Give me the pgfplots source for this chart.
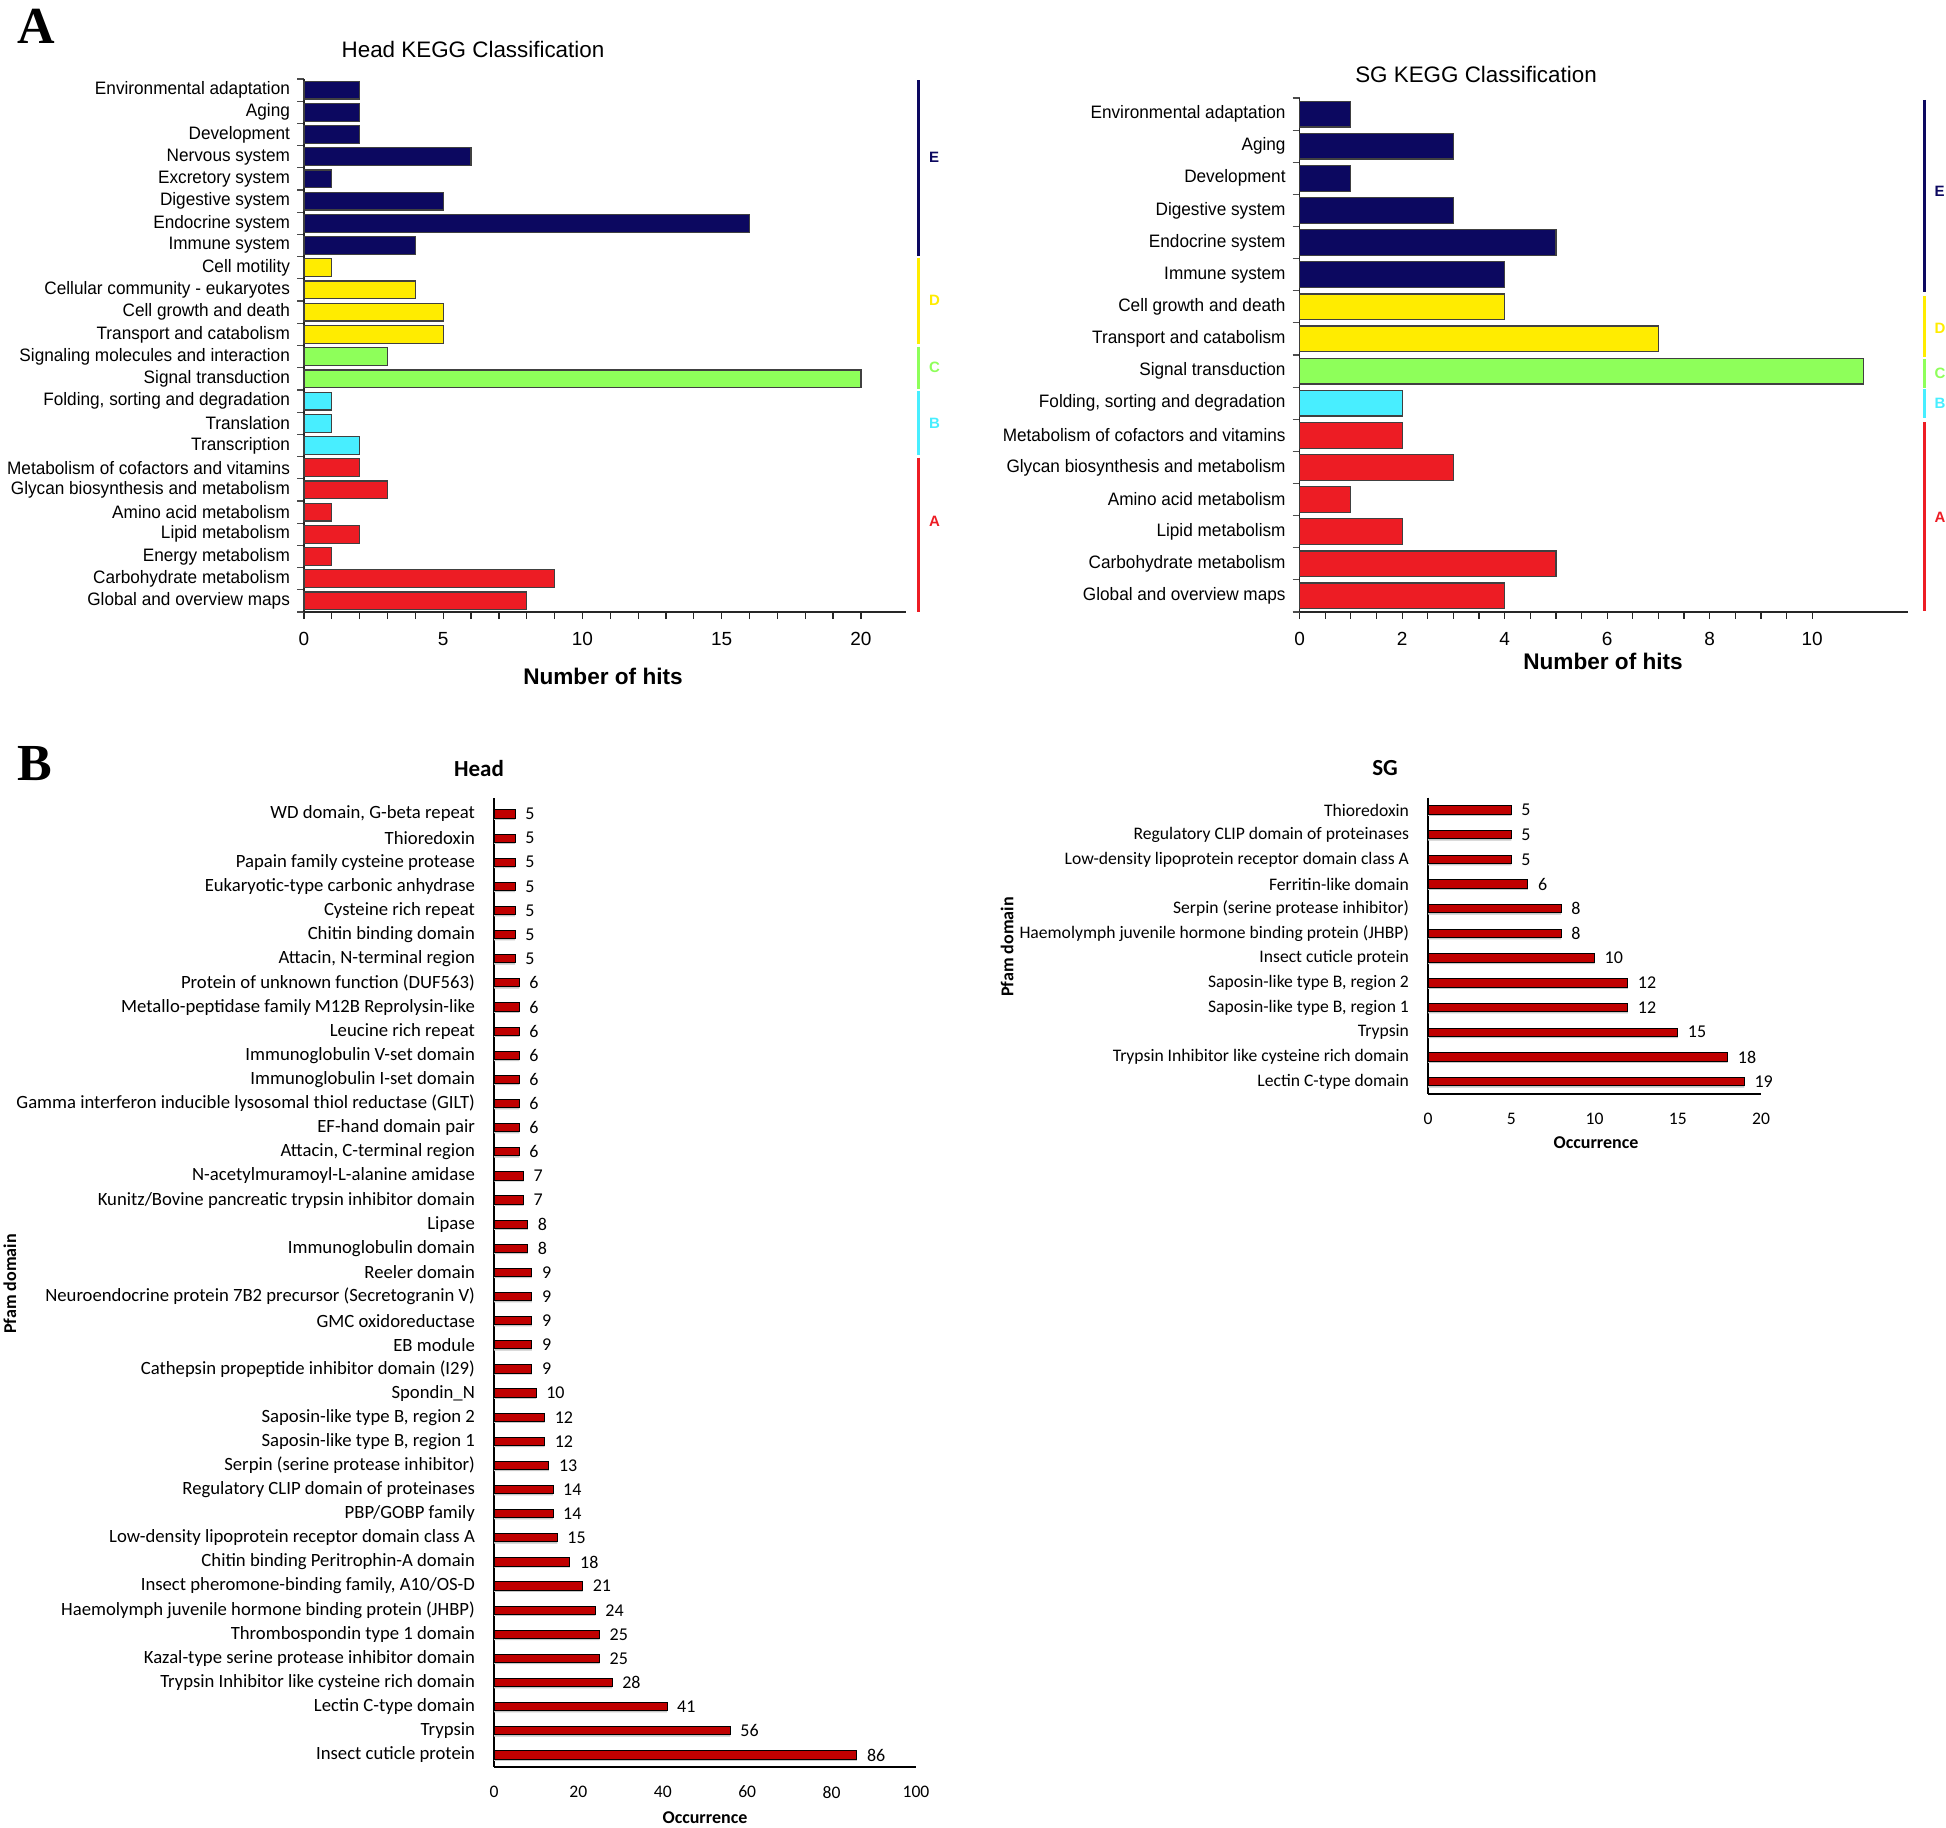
\documentclass[border=0pt]{standalone}
\usepackage{fontspec}
\setmainfont{Liberation Sans}
\newfontfamily\narrowsans[FakeStretch=0.955]{Liberation Sans}
\newfontfamily\carlito{Carlito}
\newfontfamily\tnr{Liberation Serif}
\usepackage{pgfplots}
\pgfplotsset{compat=1.18}

\definecolor{cE}{RGB}{12,8,96}
\definecolor{cD}{RGB}{255,236,0}
\definecolor{cC}{RGB}{142,255,90}
\definecolor{cB}{RGB}{72,238,255}
\definecolor{cA}{RGB}{237,28,36}
\definecolor{bred}{RGB}{192,0,0}

\pgfplotsset{
  /pgf/number format/assume math mode=true,
  kegg/.style={
    scale only axis, enlargelimits=false, clip=false,
    y dir=reverse,
    axis x line*=bottom, axis y line*=left,
    axis line style={black!85, line width=0.8pt},
    tick align=outside,
    major tick length=3.5pt, minor tick length=3.5pt,
    major y tick style={draw=none},
    minor y tick style={black!70, line width=0.6pt},
    major x tick style={black!85, line width=0.6pt},
    minor x tick style={black!85, line width=0.6pt},
    yticklabel style={font=\narrowsans\fontsize{9}{10}\selectfont},
    xticklabel style={font=\fontsize{9.5}{10}\selectfont, yshift=-3pt},
  },
  kbar/.style={xbar, bar shift=0pt, bar width=0.8, draw=black!75, line width=0.6pt, fill=#1},
  pfam/.style={
    scale only axis, enlargelimits=false, clip=false,
    y dir=reverse,
    axis x line*=bottom, axis y line*=left,
    axis line style={black, line width=0.9pt},
    tick style={draw=none}, major tick length=0pt,
    yticklabel style={font=\carlito\fontsize{8.8}{10}\selectfont, xshift=-6pt},
    xticklabel style={font=\carlito\fontsize{8.8}{10}\selectfont, yshift=-6pt},
  },
  pbar/.style={xbar, bar shift=0pt, bar width=0.34, fill=bred, draw=black, line width=0.5pt,
    point meta=x, nodes near coords,
    nodes near coords style={anchor=west, xshift=1.5pt, font=\carlito\fontsize{9}{10}\selectfont, text=black}},
  pshadow/.style={xbar, bar shift=0.07, bar width=0.34, fill=gray!45, draw=none, forget plot},
}

\begin{document}
\begin{tikzpicture}

% ---------------- Head KEGG ----------------
\begin{axis}[kegg, at={(152pt,607.5pt)}, anchor=south west,
  width=301pt, height=266.5pt,
  xmin=0, xmax=21.62, ymin=-0.5, ymax=23.5,
  xtick={0,5,10,15,20}, minor x tick num=4,
  ytick={0,...,23}, minor ytick={-0.5,0.5,...,23.5},
  yticklabels={Environmental adaptation, Aging, Development, Nervous system, Excretory system, Digestive system, Endocrine system, Immune system, Cell motility, Cellular community - eukaryotes, Cell growth and death, Transport and catabolism, Signaling molecules and interaction, Signal transduction, {Folding, sorting and degradation}, Translation, Transcription, Metabolism of cofactors and vitamins, Glycan biosynthesis and metabolism, Amino acid metabolism, Lipid metabolism, Energy metabolism, Carbohydrate metabolism, Global and overview maps},
]
\addplot[kbar=cE] coordinates {(2,0) (2,1) (2,2) (6,3) (1,4) (5,5) (16,6) (4,7)};
\addplot[kbar=cD] coordinates {(1,8) (4,9) (5,10) (5,11)};
\addplot[kbar=cC] coordinates {(3,12) (20,13)};
\addplot[kbar=cB] coordinates {(1,14) (1,15) (2,16)};
\addplot[kbar=cA] coordinates {(2,17) (3,18) (1,19) (2,20) (1,21) (9,22) (8,23)};
\draw[cE, line width=1.5pt] (axis cs:22.06,-0.45) -- (axis cs:22.06,7.45);
\draw[cD, line width=1.5pt] (axis cs:22.06,7.55) -- (axis cs:22.06,11.45);
\draw[cC, line width=1.5pt] (axis cs:22.06,11.55) -- (axis cs:22.06,13.45);
\draw[cB, line width=1.5pt] (axis cs:22.06,13.55) -- (axis cs:22.06,16.45);
\draw[cA, line width=1.5pt] (axis cs:22.06,16.55) -- (axis cs:22.06,23.5);
\node[anchor=west, inner sep=0pt, text=cE, font=\bfseries\fontsize{7.5}{8}\selectfont] at (axis cs:22.44,3.04) {E};
\node[anchor=west, inner sep=0pt, text=cD, font=\bfseries\fontsize{7.5}{8}\selectfont] at (axis cs:22.44,9.45) {D};
\node[anchor=west, inner sep=0pt, text=cC, font=\bfseries\fontsize{7.5}{8}\selectfont] at (axis cs:22.44,12.5) {C};
\node[anchor=west, inner sep=0pt, text=cB, font=\bfseries\fontsize{7.5}{8}\selectfont] at (axis cs:22.44,15.0) {B};
\node[anchor=west, inner sep=0pt, text=cA, font=\bfseries\fontsize{7.5}{8}\selectfont] at (axis cs:22.44,19.43) {A};
\end{axis}

% ---------------- SG KEGG ----------------
\begin{axis}[kegg, at={(649.8pt,607.5pt)}, anchor=south west,
  width=304.2pt, height=257pt,
  xmin=0, xmax=11.87, ymin=-0.5, ymax=15.5,
  xtick={0,2,4,6,8,10}, minor x tick num=3,
  ytick={0,...,15}, minor ytick={-0.5,0.5,...,15.5},
  yticklabels={Environmental adaptation, Aging, Development, Digestive system, Endocrine system, Immune system, Cell growth and death, Transport and catabolism, Signal transduction, {Folding, sorting and degradation}, Metabolism of cofactors and vitamins, Glycan biosynthesis and metabolism, Amino acid metabolism, Lipid metabolism, Carbohydrate metabolism, Global and overview maps},
]
\addplot[kbar=cE] coordinates {(1,0) (3,1) (1,2) (3,3) (5,4) (4,5)};
\addplot[kbar=cD] coordinates {(4,6) (7,7)};
\addplot[kbar=cC] coordinates {(11,8)};
\addplot[kbar=cB] coordinates {(2,9)};
\addplot[kbar=cA] coordinates {(2,10) (3,11) (1,12) (2,13) (5,14) (4,15)};
\draw[cE, line width=1.5pt] (axis cs:12.19,-0.44) -- (axis cs:12.19,5.54);
\draw[cD, line width=1.5pt] (axis cs:12.19,5.66) -- (axis cs:12.19,7.56);
\draw[cC, line width=1.5pt] (axis cs:12.19,7.63) -- (axis cs:12.19,8.53);
\draw[cB, line width=1.5pt] (axis cs:12.19,8.56) -- (axis cs:12.19,9.46);
\draw[cA, line width=1.5pt] (axis cs:12.19,9.59) -- (axis cs:12.19,15.47);
\node[anchor=west, inner sep=0pt, text=cE, font=\bfseries\fontsize{7.5}{8}\selectfont] at (axis cs:12.38,2.4) {E};
\node[anchor=west, inner sep=0pt, text=cD, font=\bfseries\fontsize{7.5}{8}\selectfont] at (axis cs:12.38,6.66) {D};
\node[anchor=west, inner sep=0pt, text=cC, font=\bfseries\fontsize{7.5}{8}\selectfont] at (axis cs:12.38,8.06) {C};
\node[anchor=west, inner sep=0pt, text=cB, font=\bfseries\fontsize{7.5}{8}\selectfont] at (axis cs:12.38,9.0) {B};
\node[anchor=west, inner sep=0pt, text=cA, font=\bfseries\fontsize{7.5}{8}\selectfont] at (axis cs:12.38,12.54) {A};
\end{axis}

% ---------------- Head Pfam ----------------
\begin{axis}[pfam, at={(247pt,30pt)}, anchor=south west,
  width=211pt, height=484.35pt,
  xmin=0, xmax=100, ymin=-0.65, ymax=39.5,
  xtick={0,20,40,60,80,100},
  ytick={0,...,39},
  yticklabel style={font=\carlito\fontsize{9.35}{10}\selectfont},
  yticklabels={{WD domain, G-beta repeat}, Thioredoxin, Papain family cysteine protease, Eukaryotic-type carbonic anhydrase, Cysteine rich repeat, Chitin binding domain, {Attacin, N-terminal region}, Protein of unknown function (DUF563), Metallo-peptidase family M12B Reprolysin-like, Leucine rich repeat, Immunoglobulin V-set domain, Immunoglobulin I-set domain, Gamma interferon inducible lysosomal thiol reductase (GILT), EF-hand domain pair, {Attacin, C-terminal region}, N-acetylmuramoyl-L-alanine amidase, Kunitz/Bovine pancreatic trypsin inhibitor domain, Lipase, Immunoglobulin domain, Reeler domain, Neuroendocrine protein 7B2 precursor (Secretogranin V), GMC oxidoreductase, EB module, Cathepsin propeptide inhibitor domain (I29), Spondin\_N, {Saposin-like type B, region 2}, {Saposin-like type B, region 1}, Serpin (serine protease inhibitor), Regulatory CLIP domain of proteinases, PBP/GOBP family, Low-density lipoprotein receptor domain class A, Chitin binding Peritrophin-A domain, {Insect pheromone-binding family, A10/OS-D}, Haemolymph juvenile hormone binding protein (JHBP), Thrombospondin type 1 domain, Kazal-type serine protease inhibitor domain, Trypsin Inhibitor like cysteine rich domain, Lectin C-type domain, Trypsin, Insect cuticle protein},
]
\addplot[pshadow] coordinates {(5,0) (5,1) (5,2) (5,3) (5,4) (5,5) (5,6) (6,7) (6,8) (6,9) (6,10) (6,11) (6,12) (6,13) (6,14) (7,15) (7,16) (8,17) (8,18) (9,19) (9,20) (9,21) (9,22) (9,23) (10,24) (12,25) (12,26) (13,27) (14,28) (14,29) (15,30) (18,31) (21,32) (24,33) (25,34) (25,35) (28,36) (41,37) (56,38) (86,39)};
\addplot[pbar] coordinates {(5,0) (5,1) (5,2) (5,3) (5,4) (5,5) (5,6) (6,7) (6,8) (6,9) (6,10) (6,11) (6,12) (6,13) (6,14) (7,15) (7,16) (8,17) (8,18) (9,19) (9,20) (9,21) (9,22) (9,23) (10,24) (12,25) (12,26) (13,27) (14,28) (14,29) (15,30) (18,31) (21,32) (24,33) (25,34) (25,35) (28,36) (41,37) (56,38) (86,39)};
\end{axis}

% ---------------- SG Pfam ----------------
\begin{axis}[pfam, at={(714pt,366.5pt)}, anchor=south west,
  width=166.5pt, height=148.2pt,
  xmin=0, xmax=20, ymin=-0.5, ymax=11.5,
  xtick={0,5,10,15,20},
  ytick={0,...,11},
  yticklabels={Thioredoxin, Regulatory CLIP domain of proteinases, Low-density lipoprotein receptor domain class A, Ferritin-like domain, Serpin (serine protease inhibitor), Haemolymph juvenile hormone binding protein (JHBP), Insect cuticle protein, {Saposin-like type B, region 2}, {Saposin-like type B, region 1}, Trypsin, Trypsin Inhibitor like cysteine rich domain, Lectin C-type domain},
]
\addplot[pshadow] coordinates {(5,0) (5,1) (5,2) (6,3) (8,4) (8,5) (10,6) (12,7) (12,8) (15,9) (18,10) (19,11)};
\addplot[pbar] coordinates {(5,0) (5,1) (5,2) (6,3) (8,4) (8,5) (10,6) (12,7) (12,8) (15,9) (18,10) (19,11)};
\end{axis}

% ---------------- texts ----------------
\node[inner sep=0pt, font=\tnr\bfseries\fontsize{26}{28}\selectfont] at (18pt,900.5pt) {A};
\node[inner sep=0pt, font=\tnr\bfseries\fontsize{26}{28}\selectfont] at (17.5pt,531.5pt) {B};
\node[font=\fontsize{11.2}{13}\selectfont] at (236.5pt,888.5pt) {Head KEGG Classification};
\node[font=\fontsize{11.2}{13}\selectfont] at (738pt,876pt) {SG KEGG Classification};
\node[font=\bfseries\fontsize{11.3}{13}\selectfont] at (301.5pt,575.5pt) {Number of hits};
\node[font=\bfseries\fontsize{11.3}{13}\selectfont] at (801.5pt,583pt) {Number of hits};
\node[font=\carlito\bfseries\fontsize{11.5}{13}\selectfont] at (239.5pt,529pt) {Head};
\node[font=\carlito\bfseries\fontsize{11.5}{13}\selectfont] at (692.5pt,529.5pt) {SG};
\node[font=\carlito\bfseries\fontsize{9}{10}\selectfont] at (352.5pt,4.5pt) {Occurrence};
\node[font=\carlito\bfseries\fontsize{9}{10}\selectfont] at (798pt,342pt) {Occurrence};
\node[rotate=90, font=\carlito\bfseries\fontsize{9}{10}\selectfont] at (5pt,271.5pt) {Pfam domain};
\node[rotate=90, font=\carlito\bfseries\fontsize{9}{10}\selectfont] at (503.5pt,440pt) {Pfam domain};

\pgfresetboundingbox
\useasboundingbox (0,0) rectangle (973pt,913.5pt);
\end{tikzpicture}
\end{document}
